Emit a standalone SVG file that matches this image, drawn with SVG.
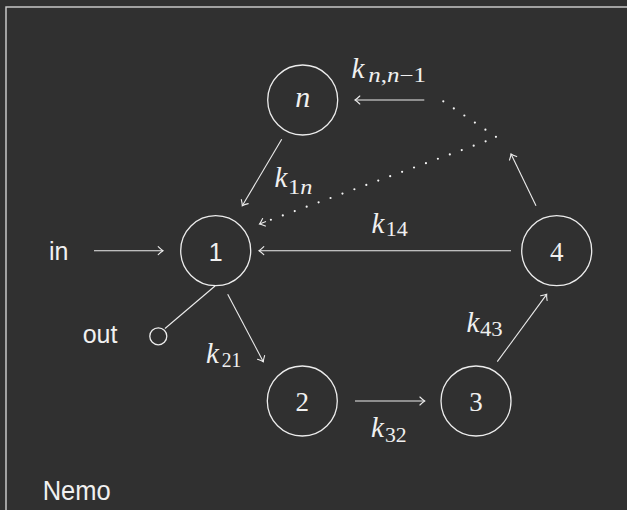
<svg xmlns="http://www.w3.org/2000/svg" width="627" height="510" viewBox="0 0 627 510">
<defs>
<marker id="ah" markerUnits="userSpaceOnUse" markerWidth="12" markerHeight="12" viewBox="-6 -6 12 12" refX="0" refY="0" orient="auto" overflow="visible">
<path d="M-4.8,-4 Q-1.8,-1 0,0 Q-1.8,1 -4.8,4" fill="none" stroke="#ececec" stroke-width="1.1" stroke-linecap="round"/>
</marker>
<style>
.node circle{fill:none;stroke:#ececec;stroke-width:1.3}
.edge{fill:none;stroke:#ececec;stroke-width:1.1}
.arr{marker-end:url(#ah)}
.dot{fill:none;stroke:#f4f4f4;stroke-width:2.2;stroke-linecap:round;stroke-dasharray:0 12.7}
.sans{font-family:"Liberation Sans","DejaVu Sans",sans-serif;fill:#f0f0f0}
.ser{font-family:"Liberation Serif","DejaVu Serif",serif;fill:#f0f0f0}
.it{font-style:italic}
.k{font-size:29px}
.sub{font-size:20px}
.lbl{font-size:27px;text-anchor:middle}
</style>
</defs>
<rect width="627" height="510" fill="#303030"/>
<rect x="6" y="7" width="640" height="520" fill="none" stroke="#d0d0d0" stroke-width="1.4"/>

<g id="connectors">
<line class="edge arr" x1="94" y1="250.7" x2="163" y2="250.7"/>
<line class="edge" x1="215" y1="286" x2="165" y2="328.5"/>
<line class="edge arr" x1="227.7" y1="294.3" x2="263.3" y2="361.7"/>
<line class="edge arr" x1="355" y1="401" x2="424.7" y2="401"/>
<line class="edge arr" x1="497.3" y1="361.7" x2="546.7" y2="294.3"/>
<line class="edge arr" x1="511" y1="250.7" x2="259" y2="250.7"/>
<line class="edge arr" x1="536" y1="205.7" x2="511" y2="154"/>
<line class="edge arr" x1="424.3" y1="100" x2="355" y2="100"/>
<line class="edge arr" x1="281.7" y1="139.3" x2="242.3" y2="205.7"/>
<polyline class="dot" points="443.3,101.3 496.7,137.3 262,223"/>
<line class="edge arr" x1="266" y1="221.6" x2="259.5" y2="224"/>
</g>

<g id="node-n" class="node"><circle cx="302.7" cy="100" r="35"/><text class="ser it lbl" x="302.7" y="107.3" style="font-size:30px">n</text></g>
<g id="node-1" class="node"><circle cx="215.7" cy="250.7" r="35"/><text class="sans lbl" x="215.7" y="260.7" style="font-size:25px">1</text></g>
<g id="node-2" class="node"><circle cx="302.3" cy="401" r="35"/><text class="ser lbl" x="302.3" y="411">2</text></g>
<g id="node-3" class="node"><circle cx="476" cy="401" r="35"/><text class="ser lbl" x="476" y="411">3</text></g>
<g id="node-4" class="node"><circle cx="556.7" cy="250.7" r="35"/><text class="ser lbl" x="556.7" y="260.5">4</text></g>
<g id="node-out" class="node"><circle cx="158.3" cy="336.3" r="8.5"/></g>

<g id="labels">
<text class="sans" x="49" y="260" style="font-size:25px">in</text>
<text class="sans" x="82.7" y="343.3" style="font-size:25px">out</text>
<text class="sans" x="42.7" y="500" style="font-size:27px" textLength="68" lengthAdjust="spacingAndGlyphs">Nemo</text>

<text class="ser it k" x="351.5" y="78.3">k</text>
<text class="ser sub" x="368.3" y="82" textLength="57.7" lengthAdjust="spacingAndGlyphs"><tspan font-style="italic">n</tspan>,<tspan font-style="italic">n</tspan>−1</text>

<text class="ser it k" x="274.5" y="186.7">k</text>
<text class="ser sub" x="288" y="194" textLength="24.3" lengthAdjust="spacingAndGlyphs">1<tspan font-style="italic">n</tspan></text>

<text class="ser it k" x="371.5" y="233.3">k</text>
<text class="ser sub" x="385.7" y="236" textLength="22" lengthAdjust="spacingAndGlyphs">14</text>

<text class="ser it k" x="206" y="362.7">k</text>
<text class="ser sub" x="221.7" y="367" textLength="19.5" lengthAdjust="spacingAndGlyphs">21</text>

<text class="ser it k" x="371" y="437.3">k</text>
<text class="ser sub" x="385" y="441.7" textLength="21.7" lengthAdjust="spacingAndGlyphs">32</text>

<text class="ser it k" x="466.5" y="332.3">k</text>
<text class="ser sub" x="480" y="335.7" textLength="22.7" lengthAdjust="spacingAndGlyphs">43</text>
</g>
</svg>
